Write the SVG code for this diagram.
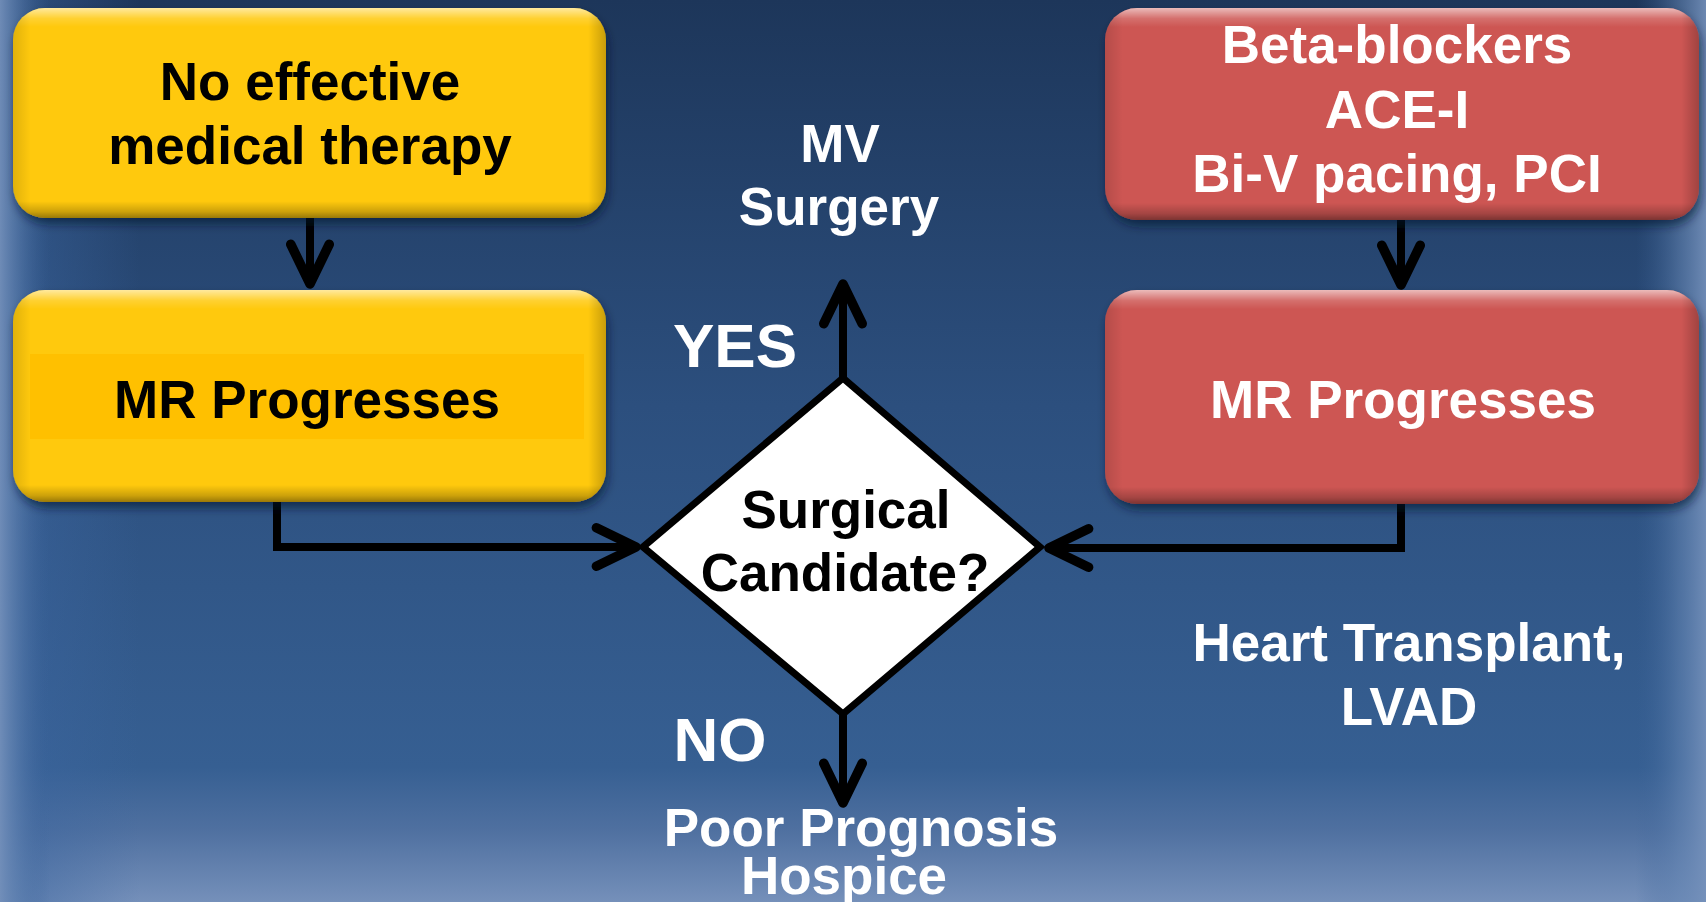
<svg xmlns="http://www.w3.org/2000/svg" width="1706" height="902" viewBox="0 0 1706 902">
  <defs>
    <linearGradient id="bgV" x1="0" y1="0" x2="0" y2="1">
      <stop offset="0" stop-color="#1d365a"/>
      <stop offset="0.45" stop-color="#2c4f7e"/>
      <stop offset="0.85" stop-color="#365f92"/>
      <stop offset="0.92" stop-color="#4f70a0"/>
      <stop offset="1" stop-color="#7590ba"/>
    </linearGradient>
    <linearGradient id="edgeL" x1="0" y1="0" x2="1" y2="0">
      <stop offset="0" stop-color="#7591bb" stop-opacity="0.9"/>
      <stop offset="0.35" stop-color="#6384b2" stop-opacity="0.55"/>
      <stop offset="1" stop-color="#3a6298" stop-opacity="0"/>
    </linearGradient>
    <linearGradient id="edgeR" x1="1" y1="0" x2="0" y2="0">
      <stop offset="0" stop-color="#7591bb" stop-opacity="0.9"/>
      <stop offset="0.4" stop-color="#6384b2" stop-opacity="0.55"/>
      <stop offset="1" stop-color="#3a6298" stop-opacity="0"/>
    </linearGradient>
    <linearGradient id="sideGlowL" x1="0" y1="0" x2="1" y2="0">
      <stop offset="0" stop-color="#3c66a0" stop-opacity="0.6"/>
      <stop offset="1" stop-color="#3c66a0" stop-opacity="0"/>
    </linearGradient>
    <linearGradient id="bevel" x1="0" y1="0" x2="0" y2="1">
      <stop offset="0" stop-color="#ffffff" stop-opacity="0.6"/>
      <stop offset="0.05" stop-color="#ffffff" stop-opacity="0.15"/>
      <stop offset="0.09" stop-color="#ffffff" stop-opacity="0"/>
      <stop offset="0.92" stop-color="#000000" stop-opacity="0"/>
      <stop offset="0.97" stop-color="#000000" stop-opacity="0.2"/>
      <stop offset="1" stop-color="#000000" stop-opacity="0.4"/>
    </linearGradient>
    <linearGradient id="bevelH" x1="0" y1="0" x2="1" y2="0">
      <stop offset="0" stop-color="#000000" stop-opacity="0.12"/>
      <stop offset="0.03" stop-color="#000000" stop-opacity="0"/>
      <stop offset="0.97" stop-color="#000000" stop-opacity="0"/>
      <stop offset="1" stop-color="#000000" stop-opacity="0.22"/>
    </linearGradient>
    <filter id="shadow" x="-10%" y="-10%" width="120%" height="130%">
      <feGaussianBlur in="SourceAlpha" stdDeviation="5"/>
      <feOffset dx="2" dy="6" result="b"/>
      <feFlood flood-color="#0a1830" flood-opacity="0.6"/>
      <feComposite in2="b" operator="in" result="s"/>
      <feMerge><feMergeNode in="s"/><feMergeNode in="SourceGraphic"/></feMerge>
    </filter>
    <marker id="arrow" markerUnits="userSpaceOnUse" markerWidth="60" markerHeight="60" viewBox="-40 -25 50 50" refX="0" refY="0" orient="auto">
      <path d="M-33,-16 L0,0 L-33,16" fill="none" stroke="#000" stroke-width="8" stroke-linecap="round" stroke-linejoin="round"/>
    </marker>
  </defs>
  <style>
    .t { font-family: "Liberation Sans", Arial, sans-serif; font-weight: bold; text-anchor: middle; }
    .blk { fill: #000; }
    .wht { fill: #fff; }
    .f53 { font-size: 53px; }
    .f62 { font-size: 62px; }
    .yel { fill: #ffc90a; }
    .red { fill: #cd5753; }
    .conn { fill: none; stroke: #000; stroke-width: 8; stroke-linejoin: miter; }
  </style>

  <g id="background">
    <rect x="0" y="0" width="1706" height="902" fill="url(#bgV)"/>
    <rect x="0" y="0" width="140" height="902" fill="url(#sideGlowL)"/>
    <rect x="0" y="0" width="50" height="902" fill="url(#edgeL)"/>
    <rect x="1636" y="0" width="70" height="902" fill="url(#edgeR)"/>
  </g>

  <g id="connectors">
    <line class="conn" x1="310" y1="218" x2="310" y2="284" marker-end="url(#arrow)"/>
    <line class="conn" x1="1401" y1="220" x2="1401" y2="285" marker-end="url(#arrow)"/>
    <polyline class="conn" points="277,502 277,547 636,547" marker-end="url(#arrow)"/>
    <polyline class="conn" points="1401,504 1401,548 1049,548" marker-end="url(#arrow)"/>
    <line class="conn" x1="843" y1="378" x2="843" y2="284" marker-end="url(#arrow)"/>
    <line class="conn" x1="843" y1="714" x2="843" y2="803" marker-end="url(#arrow)"/>
  </g>

  <g id="node-no-therapy">
    <rect class="yel" x="13" y="8" width="593" height="210" rx="32" filter="url(#shadow)"/>
    <rect x="13" y="8" width="593" height="210" rx="32" fill="url(#bevel)"/>
    <rect x="13" y="8" width="593" height="210" rx="32" fill="url(#bevelH)"/>
    <text class="t blk f53" x="310" y="100">No effective</text>
    <text class="t blk f53" x="310" y="164">medical therapy</text>
  </g>

  <g id="node-mr-left">
    <rect class="yel" x="13" y="290" width="593" height="212" rx="32" filter="url(#shadow)"/>
    <rect x="13" y="290" width="593" height="212" rx="32" fill="url(#bevel)"/>
    <rect x="13" y="290" width="593" height="212" rx="32" fill="url(#bevelH)"/>
    <rect x="30" y="354" width="554" height="85" fill="#ffc000"/>
    <text class="t blk f53" x="307" y="418">MR Progresses</text>
  </g>

  <g id="node-therapy">
    <rect class="red" x="1105" y="8" width="594" height="212" rx="32" filter="url(#shadow)"/>
    <rect x="1105" y="8" width="594" height="212" rx="32" fill="url(#bevel)"/>
    <rect x="1105" y="8" width="594" height="212" rx="32" fill="url(#bevelH)"/>
    <text class="t wht f53" x="1397" y="63">Beta-blockers</text>
    <text class="t wht f53" x="1397" y="128">ACE-I</text>
    <text class="t wht f53" x="1397" y="192">Bi-V pacing, PCI</text>
  </g>

  <g id="node-mr-right">
    <rect class="red" x="1105" y="290" width="594" height="214" rx="32" filter="url(#shadow)"/>
    <rect x="1105" y="290" width="594" height="214" rx="32" fill="url(#bevel)"/>
    <rect x="1105" y="290" width="594" height="214" rx="32" fill="url(#bevelH)"/>
    <text class="t wht f53" x="1403" y="418">MR Progresses</text>
  </g>

  <g id="node-decision">
    <polygon points="643,547 843,378 1040,547 843,714" fill="#fff" stroke="#000" stroke-width="7"/>
    <text class="t blk f53" x="846" y="528">Surgical</text>
    <text class="t blk f53" x="845" y="591">Candidate?</text>
  </g>

  <g id="label-mv">
    <text class="t wht f53" x="840" y="162">MV</text>
    <text class="t wht f53" x="839" y="225">Surgery</text>
  </g>

  <g id="label-yes">
    <text class="t wht f62" x="735" y="367">YES</text>
  </g>

  <g id="label-no">
    <text class="t wht f62" x="720" y="761">NO</text>
  </g>

  <g id="label-poor">
    <text class="t wht f53" x="861" y="846">Poor Prognosis</text>
    <text class="t wht f53" x="844" y="894">Hospice</text>
  </g>

  <g id="label-transplant">
    <text class="t wht f53" x="1409" y="661">Heart Transplant,</text>
    <text class="t wht f53" x="1409" y="725">LVAD</text>
  </g>
</svg>
